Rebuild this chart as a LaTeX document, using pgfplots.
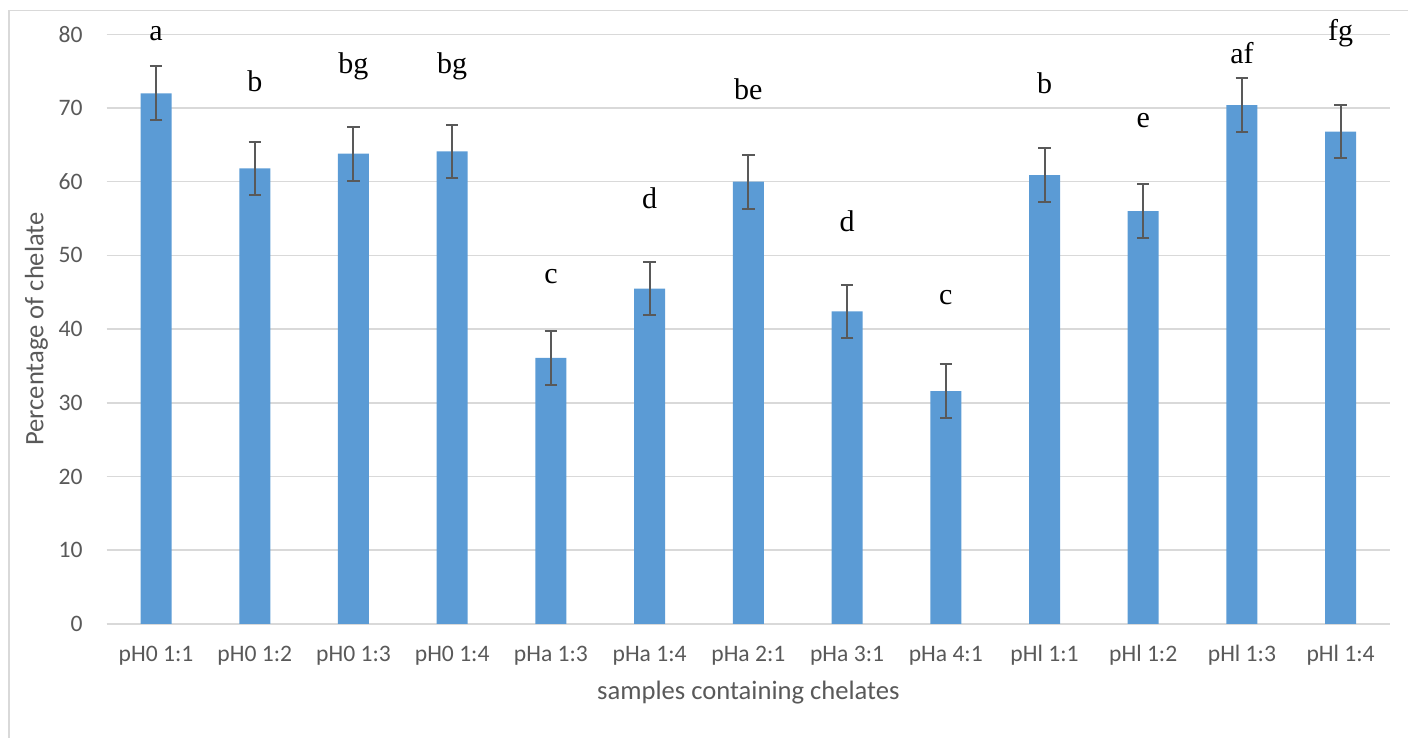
\documentclass[border=0pt]{standalone}
\usepackage{pgfplots}
\pgfplotsset{compat=1.18}
\usepackage{fontspec}
\setmainfont{Liberation Serif}
\newfontfamily\calibri{Carlito}
\definecolor{barblue}{HTML}{5B9BD5}
\definecolor{gridgray}{HTML}{D9D9D9}
\definecolor{txtgray}{HTML}{595959}
\definecolor{errgray}{HTML}{595959}
\begin{document}
\begin{tikzpicture}
\useasboundingbox (0,0) rectangle (704pt,369pt);
\draw[gridgray, line width=0.6pt] (4.5pt,-20pt) -- (4.5pt,363.65pt) -- (730pt,363.65pt);
\begin{axis}[
  at={(53.35pt,57.05pt)}, anchor=south west,
  scale only axis, width=641.65pt, height=294.8pt,
  xmin=-0.5, xmax=12.5, ymin=0, ymax=80,
  bar width=15.5pt,
  axis x line*=bottom, axis y line*=left,
  x axis line style={gridgray, line width=0.75pt},
  y axis line style={draw=none},
  ymajorgrids, grid style={gridgray, line width=0.75pt},
  major tick length=0pt,
  ytick={0,10,...,80},
  xtick={0,...,12},
  xticklabels={pH0 1:1,pH0 1:2,pH0 1:3,pH0 1:4,pHa 1:3,pHa 1:4,pHa 2:1,pHa 3:1,pHa 4:1,pHl 1:1,pHl 1:2,pHl 1:3,pHl 1:4},
  /pgf/number format/assume math mode=true,
  yticklabel style={font=\calibri\fontsize{11.8}{14}\selectfont, text=txtgray, anchor=east, inner sep=0pt, xshift=-11.85pt},
  xticklabel style={font=\calibri\fontsize{11.8}{14}\selectfont, text=txtgray, anchor=base, inner sep=0pt, yshift=-18.9pt},
  xlabel={samples containing chelates},
  xlabel style={font=\calibri\fontsize{13.3}{16}\selectfont, text=txtgray, at={(axis description cs:0.5,-0.1289)}, anchor=base, inner sep=0pt},
  ylabel={Percentage of chelate},
  ylabel style={font=\calibri\fontsize{13.3}{16}\selectfont, text=txtgray, at={(axis description cs:-0.04933,0.5)}, anchor=base, inner sep=0pt},
  clip=false,
]
\addplot[ybar, fill=barblue, draw=none,
  error bars/.cd, y dir=both, y explicit,
  error bar style={draw=errgray, line width=1pt},
  error mark options={rotate=90, draw=errgray, line width=1pt, mark size=3.1pt}]
  table[x=x, y=y, y error=e] {
x y e
0 72.0 3.65
1 61.8 3.65
2 63.8 3.65
3 64.1 3.65
4 36.1 3.65
5 45.5 3.65
6 60.0 3.65
7 42.4 3.65
8 31.6 3.65
9 60.9 3.65
10 56.0 3.65
11 70.4 3.65
12 66.8 3.65
};
\addplot[draw=none, mark=none, nodes near coords, point meta=explicit symbolic,
  nodes near coords style={anchor=base, inner sep=0pt, font=\fontsize{15}{15}\selectfont, text=black}]
  table[x=x, y=y, meta=l] {
x y l
0 79.2 a
1 72.2 b
2 74.7 bg
3 74.7 bg
4 46.2 c
5 56.3 d
6 71.2 be
7 53.2 d
8 43.3 c
9 72.0 b
10 67.4 e
11 76.1 af
12 79.2 fg
};
\end{axis}
\end{tikzpicture}
\end{document}
